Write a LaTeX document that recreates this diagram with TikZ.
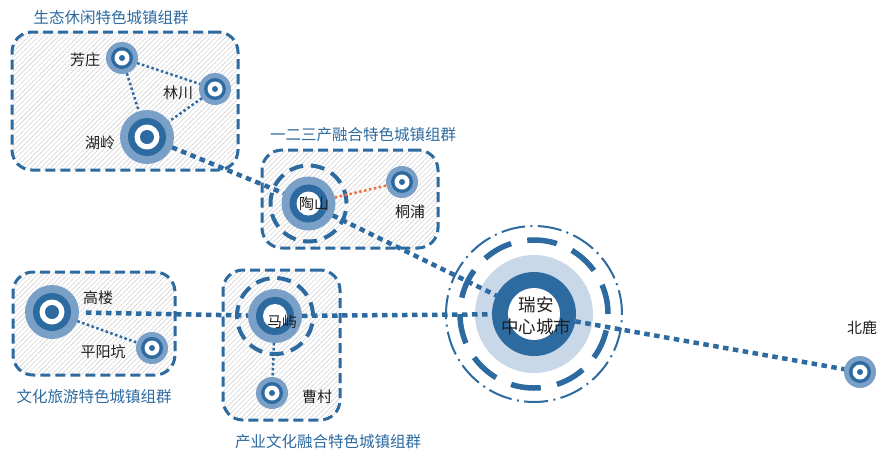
\documentclass[tikz,border=0pt]{standalone}
\usepackage{fontspec}
\setmainfont{Noto Sans CJK SC}
\usetikzlibrary{patterns.meta}
\definecolor{dk}{RGB}{44,106,160}
\definecolor{lt}{RGB}{122,160,200}
\definecolor{vlt}{RGB}{200,216,232}
\definecolor{org}{RGB}{238,112,64}
\definecolor{hatch}{RGB}{212,212,212}
\definecolor{txt}{RGB}{30,30,30}
\begin{document}
\begin{tikzpicture}[x=1pt,y=-1pt,
 groupbox/.style={draw=dk, line width=3pt, dash pattern=on 10pt off 5pt, rounded corners=20pt,
   pattern={Lines[angle=45,distance=3.5pt,line width=0.6pt]}, pattern color=hatch, inner sep=0pt},
 grouptitle/.style={text=dk, font=\fontsize{15.5pt}{18pt}\selectfont, inner sep=0pt},
 lbl/.style={text=txt, font=\fontsize{15pt}{18pt}\selectfont, inner sep=0pt},
 smalltown/.style={circle, fill=lt, minimum size=32pt, inner sep=0pt, outer sep=0pt,
   path picture={\fill[dk] (path picture bounding box.center) circle (11pt);
     \fill[white] (path picture bounding box.center) circle (7.5pt);
     \fill[dk] (path picture bounding box.center) circle (3pt);}},
 bigtown/.style={circle, fill=lt, minimum size=54pt, inner sep=0pt, outer sep=0pt,
   path picture={\fill[dk] (path picture bounding box.center) circle (19pt);
     \fill[white] (path picture bounding box.center) circle (12.5pt);
     \fill[dk] (path picture bounding box.center) circle (7pt);}},
 midtown/.style={circle, fill=lt, minimum size=54pt, inner sep=0pt, outer sep=0pt,
   path picture={\fill[dk] (path picture bounding box.center) circle (19pt);
     \fill[white] (path picture bounding box.center) circle (12pt);}},
 midring/.style={draw=dk, line width=4pt, dash pattern=on 14pt off 7.7pt},
 thickdot/.style={draw=dk, line width=4.5pt, dash pattern=on 5.5pt off 4.5pt},
 thindot/.style={draw=dk, line width=2.5pt, dash pattern=on 2.5pt off 2.5pt},
 orangedot/.style={draw=org, line width=2.5pt, dash pattern=on 2.5pt off 2.5pt},
]
\useasboundingbox (0,0) rectangle (880,451);

% group boxes
\node[groupbox, minimum width=226pt, minimum height=138pt] (g1) at (125,101) {};
\node[groupbox, minimum width=176pt, minimum height=98pt] (g2) at (350,199) {};
\node[groupbox, minimum width=162pt, minimum height=103pt] (g3) at (94,323.5) {};
\node[groupbox, minimum width=117pt, minimum height=150pt] (g4) at (281.5,345) {};

\node[grouptitle] (t1) at (111,18) {生态休闲特色城镇组群};
\node[grouptitle] (t2) at (363,135) {一二三产融合特色城镇组群};
\node[grouptitle] (t3) at (94,397) {文化旅游特色城镇组群};
\node[grouptitle] (t4) at (328,442) {产业文化融合特色城镇组群};

% central city decorations
\coordinate (rac) at (534,314);
\fill[vlt] (rac) circle (59pt);
\draw[dk, line width=5.5pt, dash pattern=on 30pt off 16.5pt] (rac) circle (74pt);
\draw[dk, line width=2pt, dash pattern=on 24pt off 5.5pt on 2pt off 5.3pt] (rac) circle (88pt);
\node[circle, fill=dk, minimum size=84pt, inner sep=0pt, outer sep=0pt,
  path picture={\fill[white] (path picture bounding box.center) circle (26pt);}] (ra) at (rac) {};

% dashed rings of mid towns
\coordinate (tsc) at (308.5,203.5);
\coordinate (myc) at (275,316);
\draw[midring] (tsc) circle (38pt);
\draw[midring] (myc) circle (38pt);

% towns
\node[smalltown] (fz) at (122,58) {};
\node[smalltown] (lc) at (215,89) {};
\node[bigtown] (hl) at (147,137) {};
\node[midtown] (ts) at (tsc) {};
\node[smalltown] (tp) at (402,182) {};
\node[bigtown] (gl) at (52,312) {};
\node[smalltown] (pyk) at (152,348) {};
\node[midtown] (my) at (myc) {};
\node[smalltown] (cc) at (272,393) {};
\node[smalltown] (bl) at (860,372) {};

% connectors
\draw[thindot] (fz) -- (lc);
\draw[thindot] (fz) -- (hl);
\draw[thindot] (lc) -- (hl);
\draw[thindot] (gl) -- (pyk);
\draw[thindot] (my) -- (cc);
\draw[orangedot] (ts) -- (tp);
\draw[thickdot] (hl) -- (ts);
\draw[thickdot] (ts) -- (ra);
\draw[thickdot] (ra) -- (bl);
\draw[thickdot, shorten <=7pt] (gl) -- (my);
\draw[thickdot] (my) -- (ra);

% labels
\node[lbl] (l-fz) at (85,60) {芳庄};
\node[lbl] (l-lc) at (178,93) {林川};
\node[lbl] (l-hl) at (100,143) {湖岭};
\node[lbl] (l-ts) at (314,204) {陶山};
\node[lbl] (l-tp) at (410,212) {桐浦};
\node[lbl] (l-gl) at (98,298) {高楼};
\node[lbl] (l-pyk) at (103,352) {平阳坑};
\node[lbl] (l-my) at (282,322) {马屿};
\node[lbl] (l-cc) at (317,397) {曹村};
\node[lbl] (l-bl) at (862,328) {北鹿};
\node[text=txt, font=\fontsize{17.5pt}{22pt}\selectfont, align=center, inner sep=0pt] (l-ra) at (536,316) {瑞安\\中心城市};
\end{tikzpicture}
\end{document}
